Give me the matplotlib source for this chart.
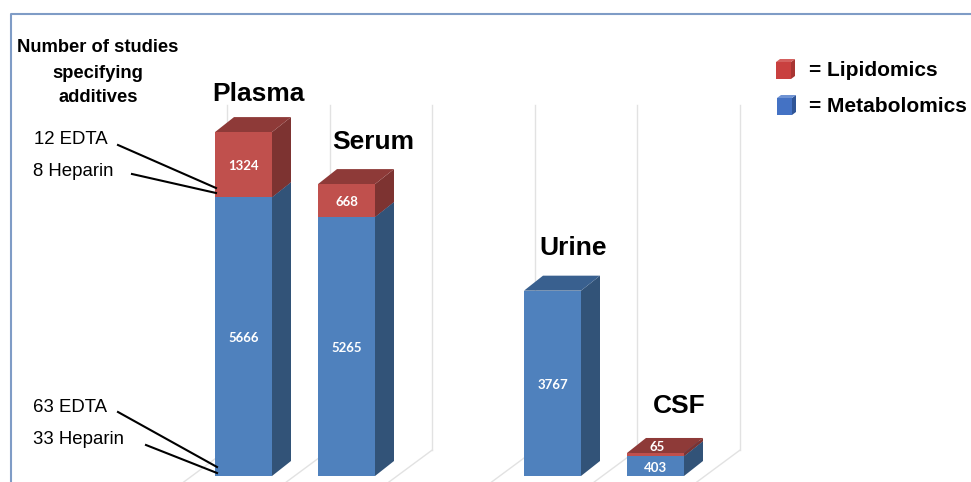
import matplotlib
matplotlib.use('Agg')
import matplotlib.pyplot as plt

# Studies per biofluid
fluids = ['Plasma', 'Serum', 'Urine', 'CSF']
fluid_pos = [0, 1, 3, 4]   # slot 2 is left empty
metabolomics = [5666, 5265, 3767, 403]
lipidomics = [1324, 668, 0, 65]
notes_lipid = ['12 EDTA', '8 Heparin']
notes_metab = ['63 EDTA', '33 Heparin']
header = ['Number of studies', 'specifying', 'additives']

plt.rcParams['font.family'] = ['Liberation Sans', 'DejaVu Sans']

BLUE = ('#4f81bd', '#325378', '#39608f')    # front, side, top
RED = ('#c0504d', '#7d3331', '#8e3a38')
GRID = '#e2e2e2'
FRAME = '#7f9cc6'

# Pixel layout of the value axes
px_per_slot = 103
px_per_study = 0.0492
x0_px, y0_px = 243.5, 476
width = 57 / px_per_slot
dx, dy = 19 / px_per_slot, 15 / px_per_study
text_nudge = 1.5 / px_per_study

fig = plt.figure(figsize=(9.71, 4.82), dpi=100)
ax = fig.add_axes([0, 0, 1, 1])
ax.set_xlim(-x0_px / px_per_slot, (971 - x0_px) / px_per_slot)
ax.set_ylim((y0_px - 482) / px_per_study, y0_px / px_per_study)
ax.axis('off')

# Back wall and floor of the 3D chart
wall_top = (y0_px - 105) / px_per_study
wall_bottom = 26 / px_per_study
for i in range(6):
    xb = -0.16 + i * 0.9963
    ax.plot([xb, xb], [wall_bottom, wall_top], color=GRID, lw=1, zorder=1)
    ax.plot([xb, xb - 0.42], [wall_bottom, wall_bottom - 32 / px_per_study], color=GRID, lw=1, zorder=1)


def box(x, bottom, height, colors):
    left, right = x - width / 2, x + width / 2
    top = bottom + height
    ax.bar(x, height, width, bottom=bottom, color=colors[0], linewidth=0, zorder=3)
    ax.fill([right, right + dx, right + dx, right],
            [bottom, bottom + dy, top + dy, top], color=colors[1], lw=0, zorder=2)
    ax.fill([left, left + dx, right + dx, right],
            [top, top + dy, top + dy, top], color=colors[2], lw=0, zorder=2)


for x, m, l in zip(fluid_pos, metabolomics, lipidomics):
    box(x, 0, m, BLUE)
    if l > 0:
        box(x, m, l, RED)

# Value labels
for x, m, l in zip(fluid_pos, metabolomics, lipidomics):
    ax.text(x, m / 2 - text_nudge, str(m), color='white', family='Lato', weight='bold', fontsize=9.5,
            ha='center', va='center', zorder=5)
    if l > 100:
        ax.text(x, m + l / 2 - text_nudge, str(l), color='white', family='Lato', weight='bold', fontsize=9.5,
                ha='center', va='center', zorder=5)
    elif l > 0:
        ax.text(x + 0.02, m + l + dy / 2 - text_nudge, str(l), color='white', family='Lato', weight='bold',
                fontsize=9.5, ha='center', va='center', zorder=5)

# Everything else is placed in picture pixels
over = fig.add_axes([0, 0, 1, 1])
over.set_xlim(0, 971)
over.set_ylim(482, 0)
over.axis('off')
over.patch.set_alpha(0)

over.plot([971, 10.5, 10.5], [13.5, 13.5, 482], color=FRAME, lw=1.5, zorder=1)

name_xy = [(258, 94), (373, 142), (573, 248), (679, 406)]
for name, (tx, ty) in zip(fluids, name_xy):
    over.text(tx, ty, name, fontsize=19, weight='bold', ha='center', va='center')

for line, ty in zip(header, [48, 73, 98]):
    over.text(98, ty, line, fontsize=13.2, weight='bold', ha='center', va='center')

note_y = [140, 172, 408, 440]
note_x = [34, 33, 33, 33]
for s, tx, ty in zip(notes_lipid + notes_metab, note_x, note_y):
    over.text(tx, ty, s, fontsize=13.4, ha='left', va='center')

leaders = [((118, 145), (216, 188)), ((132, 174), (216, 193)),
           ((118, 412), (217, 467)), ((146, 445), (217, 473))]
for (x1, y1), (x2, y2) in leaders:
    over.plot([x1, x2], [y1, y2], color='black', lw=1.5, zorder=6)

# Legend cubes
def cube(x, y, front, side, top):
    over.fill([x, x + 15, x + 15, x], [y + 3, y + 3, y + 20, y + 20], color=front, lw=0)
    over.fill([x + 15, x + 19, x + 19, x + 15], [y + 3, y, y + 17, y + 20], color=side, lw=0)
    over.fill([x, x + 4, x + 19, x + 15], [y + 3, y, y, y + 3], color=top, lw=0)


cube(776, 59, '#c9403f', '#a83533', '#d4605e')
cube(777, 95, '#4472c4', '#2f5597', '#6f93d3')
over.text(809, 70, '= Lipidomics', fontsize=15, weight='bold', ha='left', va='center')
over.text(809, 106, '= Metabolomics', fontsize=15, weight='bold', ha='left', va='center')

fig.savefig('out.png', dpi=100)
